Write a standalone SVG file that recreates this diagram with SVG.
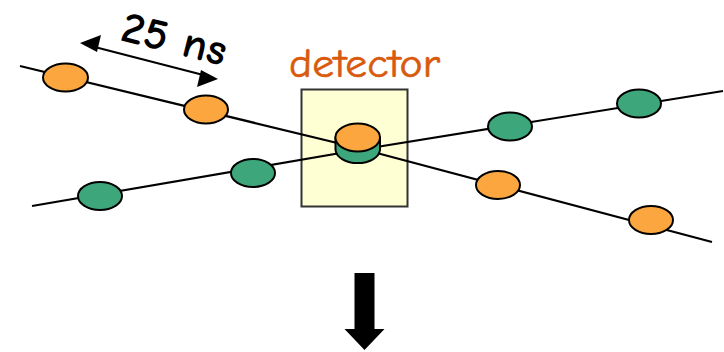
<svg xmlns="http://www.w3.org/2000/svg" width="724" height="352" viewBox="0 0 724 352">
<style>
.ln{stroke:#000;stroke-width:2.2;fill:none}
.or{fill:#FBA63E;stroke:#000;stroke-width:2}
.gr{fill:#3DA67A;stroke:#000;stroke-width:2}
.lbl{font-family:"Comic Neue","DejaVu Sans",sans-serif}
</style>
<rect width="724" height="352" fill="#fff"/>
<g id="detector">
<rect x="301.5" y="89.5" width="106" height="117" fill="#FFFFD4" stroke="#333" stroke-width="2"/>
<text class="lbl" x="289" y="77" font-size="40" fill="#D95A0C" stroke="#D95A0C" stroke-width="0.6" textLength="151" lengthAdjust="spacingAndGlyphs">detector</text>
</g>
<g id="connectors">
<polyline class="ln" points="20,66 358,148 712,242"/>
<polyline class="ln" points="32,206 358,150 723,91"/>
<line x1="85" y1="44.5" x2="213" y2="77.5" stroke="#000" stroke-width="2.2"/>
<path d="M80,43 L101,35 L97,52 Z" fill="#000"/>
<path d="M218,79 L197,87 L201,70 Z" fill="#000"/>
<path d="M354.5,273 H374.5 V329 H384.5 L364.5,350 L344.5,329 H354.5 Z" fill="#000"/>
</g>
<g id="label25">
<text class="lbl" x="0" y="0" font-size="44" font-weight="bold" fill="#000" transform="translate(119,40) rotate(14)" textLength="107" lengthAdjust="spacingAndGlyphs">25 ns</text>
</g>
<g id="orange1"><ellipse class="or" cx="65.5" cy="77.5" rx="22.5" ry="14"/></g>
<g id="orange2"><ellipse class="or" cx="206" cy="109.5" rx="22" ry="14"/></g>
<g id="orange3"><ellipse class="or" cx="498" cy="185" rx="22" ry="14"/></g>
<g id="orange4"><ellipse class="or" cx="651" cy="220" rx="22" ry="14"/></g>
<g id="green1"><ellipse class="gr" cx="100" cy="196" rx="22" ry="14"/></g>
<g id="green2"><ellipse class="gr" cx="253" cy="173" rx="22" ry="14"/></g>
<g id="green3"><ellipse class="gr" cx="510" cy="126.5" rx="22" ry="14"/></g>
<g id="green4"><ellipse class="gr" cx="639" cy="103.5" rx="22" ry="14"/></g>
<g id="collision">
<path class="gr" d="M335.5,137.5 V150 A22.3,14 0 0 0 380,150 V137.5 Z"/>
<ellipse class="or" cx="357.7" cy="137.5" rx="22.3" ry="14"/>
</g>
</svg>
